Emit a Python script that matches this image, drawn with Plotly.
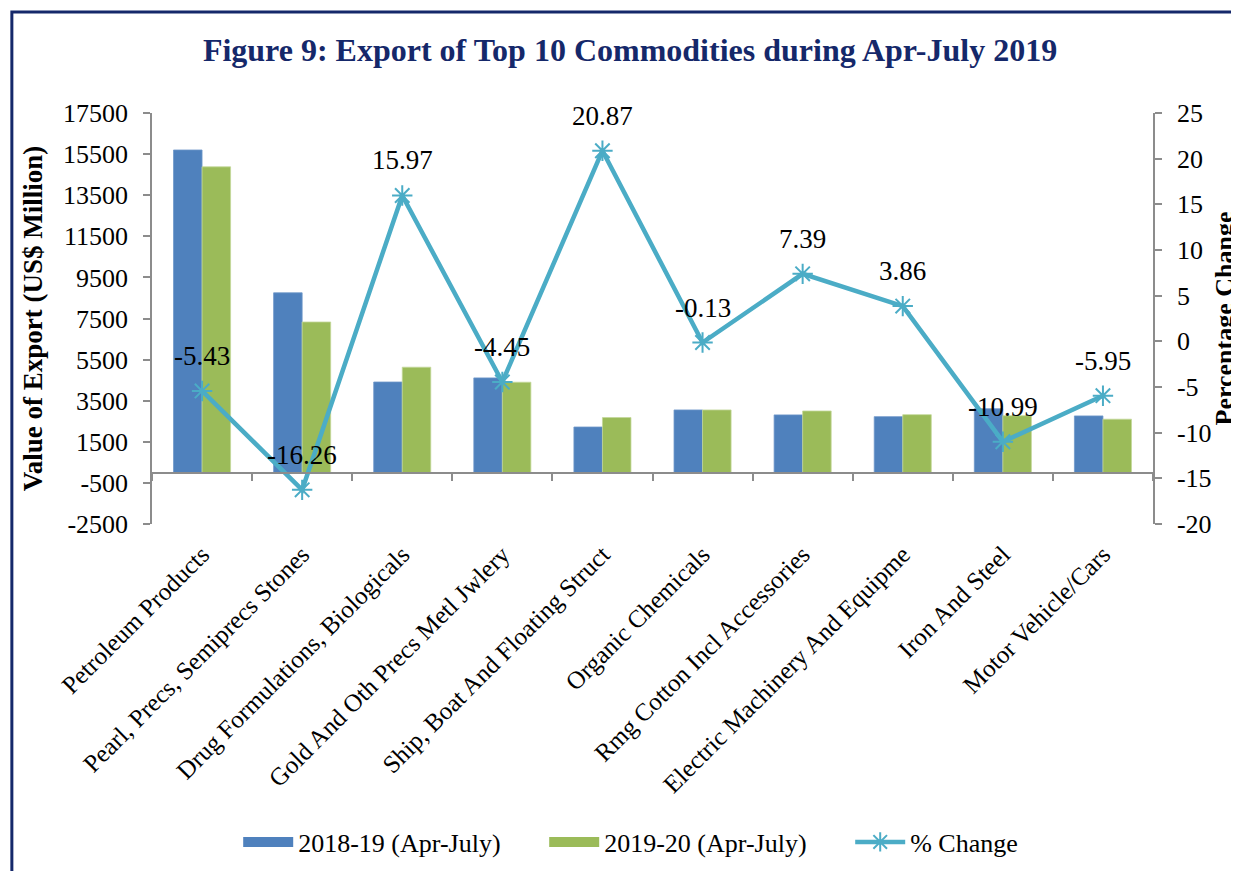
import plotly.graph_objects as go

categories = [
    "Petroleum Products",
    "Pearl, Precs, Semiprecs Stones",
    "Drug Formulations, Biologicals",
    "Gold And Oth Precs Metl Jwlery",
    "Ship, Boat And Floating Struct",
    "Organic Chemicals",
    "Rmg Cotton Incl Accessories",
    "Electric Machinery And Equipme",
    "Iron And Steel",
    "Motor Vehicle/Cars",
]
export_2018_19 = [15700, 8750, 4410, 4610, 2220, 3050, 2810, 2725, 3110, 2760]
export_2019_20 = [14880, 7330, 5130, 4400, 2680, 3050, 3000, 2820, 2770, 2600]
pct_change = [-5.43, -16.26, 15.97, -4.45, 20.87, -0.13, 7.39, 3.86, -10.99, -5.95]

series_names = ["2018-19 (Apr-July)", "2019-20 (Apr-July)", "% Change"]
left_ticks = [-2500, -500, 1500, 3500, 5500, 7500, 9500, 11500, 13500, 15500, 17500]
right_ticks = [-20, -15, -10, -5, 0, 5, 10, 15, 20, 25]

BLUE = "#4F81BD"
GREEN = "#9BBB59"
TEAL = "#4BACC6"
NAVY = "#15286A"
GREY = "#8C8C8C"
FONT = "Liberation Serif"

fig = go.Figure()
fig.add_trace(go.Bar(x=categories, y=export_2018_19, name=series_names[0], showlegend=False,
                     marker=dict(color=BLUE, line=dict(color="#6F97C9", width=0.8)),
                     xaxis="x", yaxis="y"))
fig.add_trace(go.Bar(x=categories, y=export_2019_20, name=series_names[1], showlegend=False,
                     marker=dict(color=GREEN, line=dict(color="#C4D89A", width=0.8)),
                     xaxis="x", yaxis="y"))
fig.add_trace(go.Scatter(x=categories, y=pct_change, name=series_names[2],
                         mode="lines+markers", showlegend=False,
                         line=dict(color=TEAL, width=4.5),
                         marker=dict(symbol="asterisk-open", size=17,
                                     color=TEAL, line=dict(color=TEAL, width=2)),
                         xaxis="x", yaxis="y2"))
# legend-only entries (wide swatches like the original)
fig.add_trace(go.Scatter(x=[None], y=[None], name=series_names[0], mode="lines",
                         line=dict(color=BLUE, width=17), xaxis="x", yaxis="y"))
fig.add_trace(go.Scatter(x=[None], y=[None], name=series_names[1], mode="lines",
                         line=dict(color=GREEN, width=17), xaxis="x", yaxis="y"))
fig.add_trace(go.Scatter(x=[None], y=[None], name=series_names[2], mode="lines+markers",
                         line=dict(color=TEAL, width=4.5),
                         marker=dict(symbol="asterisk-open", size=17,
                                     color=TEAL, line=dict(color=TEAL, width=2)),
                         xaxis="x", yaxis="y2"))
# invisible trace to carry the label axis
fig.add_trace(go.Scatter(x=categories, y=[0] * len(categories), mode="markers",
                         marker=dict(opacity=0), showlegend=False, hoverinfo="skip",
                         xaxis="x2", yaxis="y"))

annotations = []
for c, p in zip(categories, pct_change):
    annotations.append(dict(x=c, y=p, xref="x", yref="y2", text=f"{p:.2f}",
                            showarrow=False, yshift=35,
                            font=dict(family=FONT, size=27, color="black")))

# the page body adds an 8px margin, so the figure is 8px smaller than the window
fig.update_layout(
    width=1231, height=863,
    margin=dict(l=144, r=86, t=105, b=347),
    paper_bgcolor="white", plot_bgcolor="white",
    barmode="group", bargap=0.43, bargroupgap=0,
    font=dict(family=FONT, color="black"),
    title=dict(text="<b>Figure 9: Export of Top 10 Commodities during Apr-July 2019</b>",
               x=0.5053, xanchor="center", y=0.952, yanchor="middle",
               font=dict(family=FONT, size=32, color=NAVY)),
    xaxis=dict(type="category", categoryarray=categories, range=[-0.5, len(categories) - 0.5],
               anchor="free", position=0.125, showline=True, linecolor=GREY, linewidth=1.5,
               ticks="outside", tickson="boundaries", ticklen=8, tickcolor=GREY, tickwidth=1.5,
               showticklabels=False, showgrid=False, zeroline=False, automargin=False),
    xaxis2=dict(type="category", categoryarray=categories, range=[-0.5, len(categories) - 0.5],
                overlaying="x", anchor="y", side="bottom", showline=False, ticks="",
                tickangle=-45, showgrid=False, ticklabelstandoff=10, automargin=False,
                tickfont=dict(family=FONT, size=25, color="black")),
    yaxis=dict(range=[-2500, 17500], tickvals=left_ticks, ticktext=[str(v) for v in left_ticks],
               showline=True, linecolor=GREY, automargin=False, ticklabelstandoff=10,
               linewidth=1.5, ticks="outside", ticklen=7, tickcolor=GREY, tickwidth=1.5,
               showgrid=False, zeroline=False, tickfont=dict(family=FONT, size=26),
               title=dict(text="<b>Value of Export (US$ Million)</b>", standoff=13,
                          font=dict(family=FONT, size=27))),
    yaxis2=dict(range=[-20, 25], tickvals=right_ticks, ticktext=[str(v) for v in right_ticks],
                overlaying="y", side="right", automargin=False, ticklabelstandoff=10,
                anchor="x", showline=True, linecolor=GREY, linewidth=1.5, ticks="outside",
                ticklen=7, tickcolor=GREY, tickwidth=1.5, showgrid=False, zeroline=False,
                tickfont=dict(family=FONT, size=26),
                title=dict(text="<b>Percentage Change</b>", standoff=7,
                           font=dict(family=FONT, size=26))),
    legend=dict(orientation="h", xref="container", yref="container",
                x=0.187, xanchor="left", y=0.0336, yanchor="middle",
                font=dict(family=FONT, size=26), itemwidth=50, traceorder="normal",
                entrywidth=241, entrywidthmode="pixels",
                bgcolor="rgba(0,0,0,0)"),
    annotations=annotations,
    shapes=[dict(type="rect", xref="paper", yref="paper", x0=-0.14, x1=1.2,
                 y0=-1.0, y1=1.246, line=dict(color=NAVY, width=3), layer="above")],
)

fig.write_html("out.html")
